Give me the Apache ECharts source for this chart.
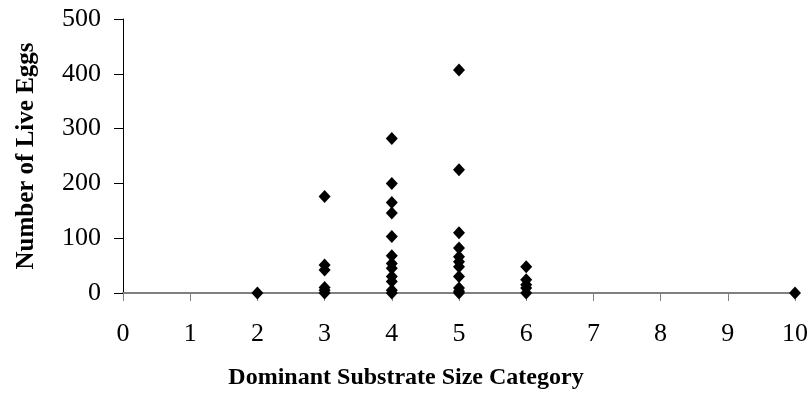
<!DOCTYPE html>
<html>
<head>
<meta charset="utf-8">
<script src="https://cdn.jsdelivr.net/npm/echarts@6/dist/echarts.min.js"></script>
<style>
  html, body { margin: 0; padding: 0; background: #fff; }
  #chart { width: 812px; height: 406px; }
</style>
</head>
<body>
<div id="chart"></div>
<script>
// substrate category of each observation, and the live eggs counted there
var substrate = [
  2,
  3, 3, 3, 3, 3, 3,
  4, 4, 4, 4, 4, 4, 4, 4, 4, 4, 4, 4,
  5, 5, 5, 5, 5, 5, 5, 5, 5, 5, 5,
  6, 6, 6, 6, 6,
  10
];
var liveEggs = [
  0,
  176, 51, 42, 10, 5, 0,
  282, 200, 165, 146, 103, 68, 54, 45, 30, 21, 5, 0,
  407, 225, 110, 82, 66, 57, 48, 30, 9, 3, 0,
  48, 24, 15, 9, 0,
  0
];
var xTicks = [0, 10, 1];   // min, max, step
var yTicks = [0, 500, 100];

var points = substrate.map(function(x, i) {
  return [x, liveEggs[i]];
});

var serif = '"Liberation Serif", "Times New Roman", serif';
var chart = echarts.init(document.getElementById('chart'));
chart.setOption({
  animation: false,
  backgroundColor: '#fff',
  // x axis title sits centred on the whole page, not on the plot
  title: {
    text: 'Dominant Substrate Size Category',
    left: 'center',
    top: 366,
    padding: 0,
    textStyle: {fontFamily: serif, fontWeight: 'bold', fontSize: 24, color: '#000'}
  },
  grid: {left: 123, right: 17, top: 19, bottom: 113},
  xAxis: {
    type: 'value',
    min: xTicks[0], max: xTicks[1], interval: xTicks[2],
    axisLine: {onZero: false, lineStyle: {color: '#808080', width: 2}},
    axisTick: {show: true, length: 8, lineStyle: {color: '#808080', width: 1}},
    axisLabel: {fontFamily: serif, fontSize: 26, color: '#000', margin: 28},
    splitLine: {show: false}
  },
  yAxis: {
    type: 'value',
    min: yTicks[0], max: yTicks[1], interval: yTicks[2],
    name: 'Number of Live Eggs',
    nameLocation: 'middle',
    nameGap: 84,
    nameTextStyle: {fontFamily: serif, fontWeight: 'bold', fontSize: 25, color: '#000'},
    axisLine: {show: true, lineStyle: {color: '#000', width: 1}},
    axisTick: {show: true, length: 9, lineStyle: {color: '#000'}},
    axisLabel: {fontFamily: serif, fontSize: 26, color: '#000', margin: 22},
    splitLine: {show: false}
  },
  series: [{
    type: 'scatter',
    symbol: 'diamond',
    symbolSize: [12, 13],
    itemStyle: {color: '#000', opacity: 1},
    data: points
  }]
});
</script>
</body>
</html>
